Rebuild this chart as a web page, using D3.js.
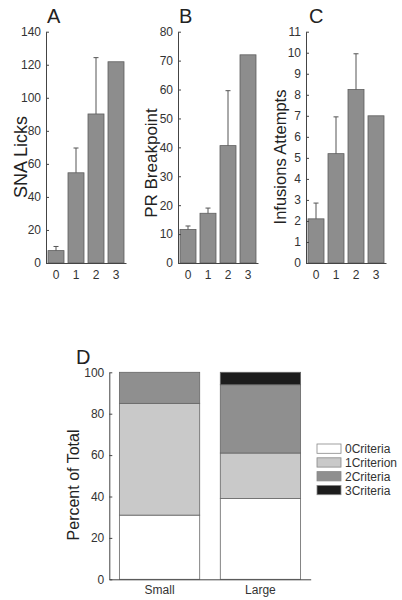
<!DOCTYPE html>
<html>
<head>
<meta charset="utf-8">
<script src="https://cdn.jsdelivr.net/npm/d3@7"></script>
<style>
  html, body { margin: 0; padding: 0; background: #fff; }
  svg { display: block; }
  text { font-family: Arial, "Liberation Sans", sans-serif; }
</style>
</head>
<body>
<svg id="chart" width="402" height="600"></svg>
<script>
// ---- Data ----
const categories = ["0", "1", "2", "3"];

const snaLicks = [7.5, 54.6, 90.2, 121.8];
const snaLicksSem = [2.5, 15.0, 34.1, 0];

const prBreakpoint = [11.6, 17.2, 40.6, 72.0];
const prBreakpointSem = [1.2, 1.8, 19.0, 0];

const infusionAttempts = [2.1, 5.2, 8.25, 7.0];
const infusionAttemptsSem = [0.75, 1.75, 1.7, 0];

const sizeGroups = ["Small", "Large"];
const criteriaLabels = ["0Criteria", "1Criterion", "2Criteria", "3Criteria"];
const pct0Criteria = [31, 39];
const pct1Criterion = [54, 22];
const pct2Criteria = [15, 33];
const pct3Criteria = [0, 6];

const yTicksA = [0, 20, 40, 60, 80, 100, 120, 140];
const yTicksB = [0, 10, 20, 30, 40, 50, 60, 70, 80];
const yTicksC = [0, 1, 2, 3, 4, 5, 6, 7, 8, 9, 10, 11];
const yTicksD = [0, 20, 40, 60, 80, 100];

// ---- Drawing ----
const svg = d3.select("#chart");
const textColor = "#333";
const axisColor = "#444";
const barFill = "#8d8d8d";
const barStroke = "#5e5e5e";

function styleAxis(g) {
  g.select(".domain").attr("stroke", axisColor).attr("stroke-width", 1);
  g.selectAll(".tick line").attr("stroke", axisColor);
  g.selectAll(".tick text").attr("fill", textColor).attr("font-size", 12)
    .attr("font-family", "Arial, 'Liberation Sans', sans-serif");
}

function barPanel(opts) {
  const { x0, x1, yTop, yBot, max, ticks, values, sems, letter, letterX, title, titleX, titleY, titleSize } = opts;
  const x = d3.scaleBand().domain(categories).range([x0, x1]).paddingInner(0.2).paddingOuter(0.1);
  const y = d3.scaleLinear().domain([0, max]).range([yBot, yTop]);

  // bars
  svg.append("g").selectAll("rect").data(values).join("rect")
    .attr("x", (d, i) => x(categories[i]))
    .attr("y", d => y(d))
    .attr("width", x.bandwidth())
    .attr("height", d => y(0) - y(d))
    .attr("fill", barFill)
    .attr("stroke", barStroke)
    .attr("stroke-width", 0.8);

  // error bars (upper only)
  const eg = svg.append("g").attr("stroke", "#555").attr("stroke-width", 1);
  values.forEach((v, i) => {
    if (!sems[i]) return;
    const cx = x(categories[i]) + x.bandwidth() / 2;
    eg.append("line").attr("x1", cx).attr("x2", cx).attr("y1", y(v)).attr("y2", y(v + sems[i]));
    eg.append("line").attr("x1", cx - 2.5).attr("x2", cx + 2.5).attr("y1", y(v + sems[i])).attr("y2", y(v + sems[i]));
  });

  // y axis (inward ticks)
  const ya = svg.append("g").attr("transform", `translate(${x0},0)`)
    .call(d3.axisLeft(y).tickValues(ticks).tickSizeInner(-3).tickSizeOuter(0).tickPadding(5).tickFormat(d3.format("d")));
  styleAxis(ya);

  // x axis (no ticks)
  const xa = svg.append("g").attr("transform", `translate(0,${yBot})`)
    .call(d3.axisBottom(x).tickSize(0).tickPadding(7));
  styleAxis(xa);
  xa.selectAll(".tick text").attr("dy", "0.71em");

  svg.append("text").attr("x", letterX).attr("y", 23).attr("font-size", 20)
    .attr("fill", "#222").text(letter);

  svg.append("text")
    .attr("transform", `translate(${titleX},${titleY}) rotate(-90)`)
    .attr("text-anchor", "middle")
    .attr("font-size", titleSize)
    .attr("fill", "#222")
    .text(title);
}

barPanel({ x0: 46, x1: 126, yTop: 31.7, yBot: 263, max: 140, ticks: yTicksA,
  values: snaLicks, sems: snaLicksSem, letter: "A", letterX: 47,
  title: "SNA Licks", titleX: 27, titleY: 157, titleSize: 18 });

barPanel({ x0: 178, x1: 258, yTop: 31.7, yBot: 263, max: 80, ticks: yTicksB,
  values: prBreakpoint, sems: prBreakpointSem, letter: "B", letterX: 179,
  title: "PR Breakpoint", titleX: 157, titleY: 163, titleSize: 17 });

barPanel({ x0: 306, x1: 386, yTop: 31.7, yBot: 263, max: 11, ticks: yTicksC,
  values: infusionAttempts, sems: infusionAttemptsSem, letter: "C", letterX: 309,
  title: "Infusions Attempts", titleX: 286, titleY: 157, titleSize: 16.5 });

// ---- Panel D: stacked bars ----
const dx = d3.scaleBand().domain(sizeGroups).range([109.3, 310.7]).paddingInner(0.204).paddingOuter(0.1);
const dy = d3.scaleLinear().domain([0, 100]).range([579.3, 372.3]);
const stackColors = ["#ffffff", "#c9c9c9", "#8f8f8f", "#1c1c1c"];
const seriesVals = [pct0Criteria, pct1Criterion, pct2Criteria, pct3Criteria];

const table = sizeGroups.map((g, i) => {
  const row = { group: g };
  criteriaLabels.forEach((c, k) => row[c] = seriesVals[k][i]);
  return row;
});
const stacked = d3.stack().keys(criteriaLabels)(table);

stacked.forEach((layer, k) => {
  svg.append("g").selectAll("rect").data(layer.filter(d => d[1] - d[0] > 0)).join("rect")
    .attr("x", d => dx(d.data.group))
    .attr("y", d => dy(d[1]))
    .attr("width", dx.bandwidth())
    .attr("height", d => dy(d[0]) - dy(d[1]))
    .attr("fill", stackColors[k])
    .attr("stroke", "#666")
    .attr("stroke-width", 0.8);
});

const dya = svg.append("g").attr("transform", "translate(109.3,0)")
  .call(d3.axisLeft(dy).tickValues(yTicksD).tickSizeInner(-3).tickSizeOuter(0).tickPadding(5));
styleAxis(dya);
const dxa = svg.append("g").attr("transform", "translate(0,579.3)")
  .call(d3.axisBottom(dx).tickSize(0).tickPadding(6));
styleAxis(dxa);
dxa.selectAll(".tick text").attr("dy", "0.71em");

svg.append("text").attr("x", 76).attr("y", 364).attr("font-size", 20).attr("fill", "#222").text("D");
svg.append("text")
  .attr("transform", "translate(79,485) rotate(-90)")
  .attr("text-anchor", "middle").attr("font-size", 16).attr("fill", "#222")
  .text("Percent of Total");

// legend
const lg = svg.append("g").attr("transform", "translate(317,444)");
criteriaLabels.forEach((c, k) => {
  const row = lg.append("g").attr("transform", `translate(0,${k * 13.8})`);
  row.append("rect").attr("width", 24).attr("height", 9.3)
    .attr("fill", stackColors[k]).attr("stroke", "#888").attr("stroke-width", 0.8);
  row.append("text").attr("x", 28).attr("y", 9.2).attr("font-size", 12).attr("fill", textColor).text(c);
});
</script>
</body>
</html>
